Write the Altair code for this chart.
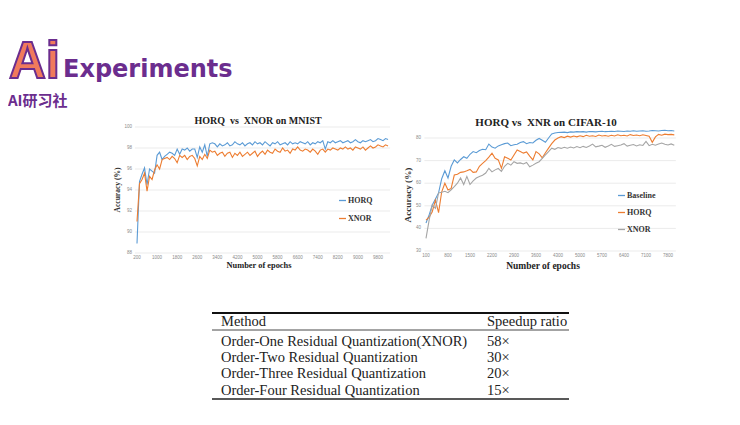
import altair as alt
import pandas as pd

# ---------------- data ----------------
mnist_epochs = list(range(200, 10201, 100))
mnist_horq = [
    88.9, 94.8, 95.5, 96.1, 94.5, 96.0, 95.8, 95.6, 97.3, 97.6,
    96.9, 97.2, 97.4, 97.6, 97.5, 97.3, 97.9, 97.4, 97.9, 97.8,
    98.0, 97.7, 97.9, 97.9, 97.1, 98.1, 97.6, 98.3, 97.2, 98.4,
    98.5, 98.4, 98.1, 98.4, 98.2, 98.3, 98.5, 98.2, 98.3, 98.6,
    98.4, 98.3, 98.5, 98.2, 98.4, 98.5, 98.3, 98.6, 98.4, 98.5,
    98.3, 98.6, 98.4, 98.2, 98.5, 98.4, 98.6, 98.3, 98.4, 98.5,
    98.3, 98.6, 98.4, 98.5, 98.4, 98.6, 98.5, 98.4, 98.6, 98.3,
    98.5, 98.4, 98.6, 98.5, 98.7, 97.9, 98.6, 98.5, 98.7, 98.5,
    98.6, 98.7, 98.5, 98.6, 98.7, 98.5, 98.6, 98.8, 98.6, 98.5,
    98.7, 98.6, 98.7, 98.8, 98.6, 98.7, 98.9, 98.8, 98.7, 98.9,
    98.8,
]
mnist_xnor = [
    91.0, 94.6, 95.0, 95.6, 93.9, 95.3, 95.0, 95.9, 96.4, 96.0,
    96.9, 97.0, 97.1, 96.9, 97.2, 97.0, 96.6, 97.3, 97.1, 97.3,
    96.9, 97.2, 97.3, 97.0, 96.3, 97.2, 96.9, 97.4, 97.0, 97.8,
    97.6, 97.7, 97.3, 97.5, 97.6, 97.2, 97.5, 97.6, 97.1, 97.5,
    97.3, 97.6, 97.2, 97.4, 97.6, 97.3, 97.5, 97.7, 97.2, 97.5,
    97.7, 97.4, 97.8, 97.6, 97.5, 97.9, 97.7, 97.6, 98.0, 97.7,
    97.8, 97.5, 97.9, 97.8, 98.1, 97.8, 97.7, 97.9, 97.8, 97.6,
    97.9, 97.7, 97.4, 97.8, 97.9, 97.6, 97.9, 97.8, 98.0, 97.9,
    97.8, 98.0, 97.9, 98.1, 97.9, 98.0, 97.8, 98.1, 98.0, 97.9,
    98.1, 97.8, 98.0, 98.2, 98.0, 98.1, 98.3, 98.2, 98.1, 98.3,
    98.2,
]
mnist_series = ["HORQ", "XNOR"]
mnist_xticks = [200, 1000, 1800, 2600, 3400, 4200, 5000, 5800, 6600, 7400, 8200, 9000, 9800]
mnist_yticks = [88, 90, 92, 94, 96, 98, 100]
mnist_grid_span = [120, 10280]

cifar_epochs = list(range(100, 8001, 100))
cifar_base = [
    42.4, 46.0, 50.4, 53.0, 55.7, 62.0, 65.5, 62.3, 67.5, 70.3,
    69.0, 70.5, 71.7, 71.0, 72.8, 74.0, 73.5, 74.5, 75.0, 74.8,
    77.3, 76.0, 75.5, 76.5, 77.0, 77.5, 77.8, 76.6, 77.0, 77.2,
    78.0, 78.4, 77.5, 78.0, 77.8, 79.0, 79.8, 79.0, 78.1, 80.0,
    81.8, 82.2, 82.4, 82.5, 82.6, 82.4, 82.7, 82.6, 82.8, 82.7,
    82.8, 82.6, 82.9, 82.8, 82.7, 82.9, 83.0, 82.8, 82.9, 83.0,
    82.9, 83.1, 83.0, 82.9, 83.1, 83.0, 83.2, 83.0, 83.1, 83.2,
    83.0, 83.1, 83.3, 83.2, 83.1, 83.3, 83.4, 83.2, 83.3, 83.1,
]
cifar_horq = [
    43.7, 45.0, 47.4, 52.5, 47.0, 56.2, 60.0, 57.0, 57.7, 63.6,
    64.0, 64.8, 65.0, 65.5, 66.1, 64.8, 65.0, 67.5, 68.8, 70.0,
    71.5, 73.3, 71.0, 70.3, 66.6, 71.7, 71.0, 70.3, 72.5, 74.7,
    74.0, 73.3, 73.8, 72.0, 70.3, 74.0, 73.0, 71.2, 73.5, 75.5,
    77.5, 79.1, 80.0, 80.6, 80.2, 80.8, 80.4, 80.9, 80.5, 81.0,
    80.6, 81.2, 80.8, 81.0, 80.7, 81.3, 80.9, 81.1, 80.8, 81.2,
    80.9, 81.4, 81.0, 81.2, 80.9, 81.5, 81.1, 81.3, 81.0, 81.4,
    81.1, 80.8, 78.1, 80.5, 81.6, 81.2, 81.7, 81.5, 81.6, 81.4,
]
cifar_xnor = [
    35.6, 43.7, 50.4, 48.9, 55.7, 56.0, 56.4, 55.8, 57.1, 58.5,
    60.0, 62.3, 59.4, 63.0, 59.4, 61.0, 62.3, 63.0, 63.5, 64.5,
    66.6, 65.0, 65.9, 66.5, 65.2, 67.5, 68.8, 68.0, 69.5, 68.8,
    69.0, 68.5, 69.2, 67.3, 68.0, 68.8, 69.5, 71.0, 72.5, 74.0,
    75.5, 75.0, 75.8, 75.4, 75.9, 75.5, 76.0, 75.6, 76.2, 75.7,
    76.3, 75.8, 76.5, 77.3, 76.1, 76.4, 76.8, 75.9, 76.5, 77.2,
    76.3, 76.6, 76.9, 77.5, 76.4, 76.8, 77.1, 76.5, 77.0, 76.7,
    78.5, 76.6, 77.2, 76.8, 77.3, 77.8, 77.2, 76.9, 77.4, 76.8,
]
cifar_series = ["Baseline", "HORQ", "XNOR"]
cifar_xticks = [100, 800, 1500, 2200, 2900, 3600, 4300, 5000, 5700, 6400, 7100, 7800]
cifar_yticks = [30, 40, 50, 60, 70, 80]
cifar_grid_span = [50, 8050]

methods = [
    "Order-One Residual Quantization(XNOR)",
    "Order-Two Residual Quantization",
    "Order-Three Residual Quantization",
    "Order-Four Residual Quantization",
]
speedups = ["58\u00d7", "30\u00d7", "20\u00d7", "15\u00d7"]
table_header = ["Method", "Speedup ratio"]

# ---------------- styles ----------------
BLUE, ORANGE, GRAY = "#5b9bd5", "#ed7d31", "#a5a5a5"
PURPLE = "#6b2d8e"
SERIF = "Liberation Serif"
GRID = "#e2e2e2"
TICK = "#8a8a8a"


def txt(label, x, y, size, font=SERIF, weight="normal", color="#222",
        align="left", baseline="middle", angle=0, **kw):
    return alt.Chart(pd.DataFrame({"label": [label]})).mark_text(
        font=font, fontSize=size, fontWeight=weight, color=color,
        align=align, baseline=baseline, angle=angle, **kw
    ).encode(x=alt.value(x), y=alt.value(y), text="label:N")


def panel(epochs, series_vals, series_names, colors, xticks, yticks, grid_span,
          xdom, xrange, ydom, yrange, xlab_y, ylab_x, legend_x, legend_y, row_pad):
    xs = alt.Scale(domain=xdom, range=xrange, nice=False, zero=False)
    ys = alt.Scale(domain=ydom, range=yrange, nice=False, zero=False)
    rows = []
    for name, vals in zip(series_names, series_vals):
        for e, v in zip(epochs, vals):
            rows.append({"epoch": e, "acc": v, "series": name})
    df = pd.DataFrame(rows)
    grid_df = pd.DataFrame({"v": yticks, "x0": grid_span[0], "x1": grid_span[1]})
    grid = alt.Chart(grid_df).mark_rule(color=GRID, strokeWidth=0.7).encode(
        x=alt.X("x0:Q", scale=xs, axis=None), x2="x1:Q",
        y=alt.Y("v:Q", scale=ys, axis=None))
    ylabels = alt.Chart(pd.DataFrame({"v": yticks})).mark_text(
        font="Liberation Sans", fontSize=4.5, color=TICK, align="right", baseline="middle"
    ).encode(x=alt.value(ylab_x), y=alt.Y("v:Q", scale=ys, axis=None), text="v:Q")
    xlabels = alt.Chart(pd.DataFrame({"t": xticks})).mark_text(
        font="Liberation Sans", fontSize=4.5, color=TICK, align="center", baseline="middle"
    ).encode(x=alt.X("t:Q", scale=xs, axis=None), y=alt.value(xlab_y), text="t:Q")
    lines = alt.Chart(df).mark_line(strokeWidth=1.1).encode(
        x=alt.X("epoch:Q", scale=xs, axis=None),
        y=alt.Y("acc:Q", scale=ys, axis=None),
        color=alt.Color("series:N",
                        scale=alt.Scale(domain=series_names, range=colors),
                        legend=alt.Legend(orient="none", legendX=legend_x, legendY=legend_y,
                                          title=None, symbolType="stroke", symbolSize=49,
                                          symbolStrokeWidth=1.3, labelFont=SERIF,
                                          labelFontWeight="bold", labelFontSize=8,
                                          labelColor="#333", labelOffset=1,
                                          rowPadding=row_pad, padding=0)),
        detail="series:N")
    return alt.layer(grid, ylabels, xlabels, lines)


mnist = panel(mnist_epochs, [mnist_horq, mnist_xnor], mnist_series, [BLUE, ORANGE],
              mnist_xticks, mnist_yticks, mnist_grid_span,
              [200, 9800], [129, 370], [88, 100], [245, 119],
              250, 124, 330, 188, 9)
cifar = panel(cifar_epochs, [cifar_base, cifar_horq, cifar_xnor], cifar_series,
              [BLUE, ORANGE, GRAY], cifar_xticks, cifar_yticks, cifar_grid_span,
              [100, 7800], [418, 660], [30, 80], [243, 130],
              248, 413, 609, 183, 8)

NB = "\u00a0"
decor = alt.layer(
    # logo
    txt("Ai", 1, 70, 51, font="Liberation Sans", weight="bold", color="#f07a5c",
        baseline="alphabetic", stroke=PURPLE, strokeWidth=2),
    txt("Experiments", 55, 69, 24, font="DejaVu Sans", weight="bold", color=PURPLE, baseline="alphabetic"),
    txt("AI研习社", 0, 98, 15, font="Noto Sans CJK SC", weight="bold", color=PURPLE, baseline="alphabetic"),
    # chart titles
    txt(f"HORQ{NB}{NB}vs{NB}{NB}XNOR on MNIST", 250, 116, 10, weight="bold", color="#222",
        align="center", baseline="alphabetic"),
    txt(f"HORQ vs{NB}{NB}XNR on CIFAR-10", 538, 118, 11, weight="bold", color="#222",
        align="center", baseline="alphabetic"),
    txt("Accuracy (%)", 110, 182, 7.5, weight="bold", color="#333", align="center", angle=270),
    txt("Accuracy (%)", 400, 187, 9.2, weight="bold", color="#333", align="center", angle=270),
    txt("Number of epochs", 251, 257, 8.4, weight="bold", color="#222", align="center"),
    txt("Number of epochs", 535, 258, 9.5, weight="bold", color="#222", align="center"),
)

# table
tdf = pd.DataFrame({"i": list(range(len(methods))), "method": methods, "speed": speedups})
ty = alt.Scale(domain=[0, 3], range=[333.7, 382.7], nice=False, zero=False)
t_methods = alt.Chart(tdf).mark_text(font=SERIF, fontSize=14.5, color="#222", align="left",
                                     baseline="middle").encode(
    x=alt.value(213), y=alt.Y("i:Q", scale=ty, axis=None), text="method:N")
t_speed = alt.Chart(tdf).mark_text(font=SERIF, fontSize=14.5, color="#222", align="left",
                                   baseline="middle").encode(
    x=alt.value(479), y=alt.Y("i:Q", scale=ty, axis=None), text="speed:N")
rule_df = pd.DataFrame({"k": [0]})
top_rule = alt.Chart(rule_df).mark_rule(color="#111", strokeWidth=2).encode(
    x=alt.value(204), x2=alt.value(561), y=alt.value(305))
mid_rule = alt.Chart(rule_df).mark_rule(color="#333", strokeWidth=0.9).encode(
    x=alt.value(204), x2=alt.value(561), y=alt.value(322))
bot_rule = alt.Chart(rule_df).mark_rule(color="#222", strokeWidth=1.4).encode(
    x=alt.value(204), x2=alt.value(561), y=alt.value(391))
table = alt.layer(
    top_rule, mid_rule, bot_rule,
    txt(table_header[0], 213, 314, 14.5),
    txt(table_header[1], 479, 314, 14.5),
    t_methods, t_speed,
)

chart = alt.layer(decor, mnist, cifar, table).resolve_scale(
    x="independent", y="independent", color="independent"
).properties(
    width=724, height=409, padding=0,
    autosize=alt.AutoSizeParams(type="none"),
    background="white",
).configure_view(strokeWidth=0)

chart.save("out.html", embed_options={"renderer": "svg", "actions": False})
